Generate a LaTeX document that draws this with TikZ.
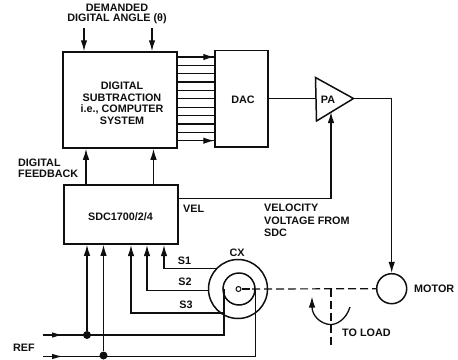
\documentclass[tikz,border=0pt]{standalone}
\usepackage{fontspec}
\setmainfont{Liberation Sans}
\usetikzlibrary{arrows.meta}
\definecolor{ink}{gray}{0.06}
\tikzset{
 wire/.style={line width=1.25pt,draw=ink},
 arr/.style={wire,-{Latex[length=11pt,width=6.5pt]}},
 box/.style={draw=ink,line width=1.5pt,inner sep=0pt},
 lab/.style={font=\bfseries\fontsize{10.8}{11.5}\selectfont,inner sep=0pt,align=center,text=ink},
 labl/.style={lab,align=left},
 dotn/.style={circle,fill=ink,inner sep=0pt,minimum size=8pt},
 ring/.style={circle,draw=ink,line width=1.5pt,inner sep=0pt},
 shaft/.style={line width=1.2pt,dash pattern=on 8pt off 4pt,draw=ink}
}
\begin{document}
\begin{tikzpicture}[x=1pt,y=-1pt]
\useasboundingbox (0,0) rectangle (458,359);
% boxes
\node[box,minimum width=114pt,minimum height=96pt] (sub) at (120,100) {};
\node[lab] (subt) at (122,103.5) {DIGITAL\\SUBTRACTION\\i.e., COMPUTER\\SYSTEM};
\node[box,minimum width=53pt,minimum height=96.5pt] (dac) at (241.5,98.5) {};
\node[lab] (dact) at (243,100) {DAC};
\node[box,minimum width=114pt,minimum height=59pt] (sdc) at (121,214.5) {};
\node[lab] (sdct) at (120.5,216.5) {SDC1700/2/4};
% PA
\coordinate (pa1) at (315.5,77.5);
\coordinate (pa2) at (316.5,121);
\coordinate (pa3) at (353.5,98.5);
\draw[box] (pa1) -- (pa3) -- (pa2) -- cycle;
\node[lab] (pat) at (328,99.5) {PA};
% motor and CX
\node[ring,minimum size=30pt] (motor) at (391.7,288.7) {};
\node[ring,minimum size=59pt] (cxo) at (238,289) {};
\node[ring,minimum size=32pt] (cxi) at (239,289) {};
\node[circle,draw=ink,line width=1pt,minimum size=5pt,inner sep=0pt] (rot) at (238.5,289) {};
% labels
\node[lab] (dem) at (117,8) {DEMANDED};
\node[lab] (ang) at (117,19) {DIGITAL  ANGLE (θ)};
\node[labl,anchor=west] (fb) at (18,168.5) {DIGITAL\\FEEDBACK};
\node[labl,anchor=west] (vel) at (183,209) {VEL};
\node[labl,anchor=north west,font=\bfseries\fontsize{10.8}{12.3}\selectfont] (velv) at (264,204) {VELOCITY\\VOLTAGE FROM\\SDC};
\node[lab] (cxt) at (237,253) {CX};
\node[lab] (s1) at (184.5,261) {S1};
\node[lab] (s2) at (185,282) {S2};
\node[lab] (s3) at (186,305) {S3};
\node[lab] (ref) at (24,348) {REF};
\node[labl,anchor=west] (mott) at (414,289) {MOTOR};
\node[labl,anchor=west] (load) at (342,332.5) {TO LOAD};
% top inputs
\coordinate (t1) at (84,28);
\coordinate (t2) at (152,28);
\draw[arr] (t1) -- (t1 |- sub.north);
\draw[arr] (t2) -- (t2 |- sub.north);
% bus DAC
\foreach \i in {0,...,10}{
 \draw[wire] (sub.east |- 0,{57+8.37*\i}) -- (dac.west |- 0,{57+8.37*\i});
}
\draw[arr] (sub.east |- 0,57) -- (dac.west |- 0,57);
\draw[arr] (sub.east |- 0,140.7) -- (dac.west |- 0,140.7);
% sdc to sub
\coordinate (f1) at (86,185);
\coordinate (f2) at (153.5,185);
\draw[arr] (f1) -- (f1 |- sub.south);
\draw[arr] (f2) -- (f2 |- sub.south);
% dac to pa
\draw[wire] (dac.east |- pa3) -- (315.8,98.5);
% pa to motor
\draw[arr] (pa3) -| (motor.north);
% vel
\coordinate (vtip) at (331,112);
\draw[arr] (sdc.east |- 0,198.5) -| (vtip);
% reference lines and junctions
\coordinate (r1) at (43,335);
\coordinate (r2) at (43,356.5);
\node[dotn] (j1) at (87,335) {};
\node[dotn] (j2) at (103.5,355.5) {};
\draw[wire] (r1) -- (224,335) -- (224,289);
\draw[wire] (r2) -- (255.7,356.5) -- (255.7,289);
\draw[wire,-{Latex[length=11pt,width=5.5pt]}] (r1) -- (63,335);
\draw[wire,-{Latex[length=11pt,width=5.5pt]}] (r2) -- (63,356.5);
\draw[arr] (j1) -- (j1 |- sdc.south);
\draw[arr] (j2) -- (j2 |- sdc.south);
% stator lines
\coordinate (a3) at (131,245);
\coordinate (a2) at (147,245);
\coordinate (a1) at (164,245);
\draw[arr] (217,268.5) -| (a1);
\draw[arr] (cxo.west |- 0,290.5) -| (a2);
\draw[arr] (225,313) -| (a3);
% shaft
\draw[wire] (rot.east) -- (250,289);
\draw[shaft] (252,289) -- (motor.west);
\coordinate (lend) at (331,346);
\draw[shaft] (331,289) -- (lend);
% rotation arrow
\coordinate (rs) at (350,307);
\coordinate (rt) at (312,296.5);
\draw[line width=1.3pt,draw=ink,-{Latex[length=11pt,width=6.5pt]}] (rs) .. controls (346,320) and (336,325) .. (330,324.5) .. controls (321,324) and (312,316) .. (rt);
\end{tikzpicture}
\end{document}
